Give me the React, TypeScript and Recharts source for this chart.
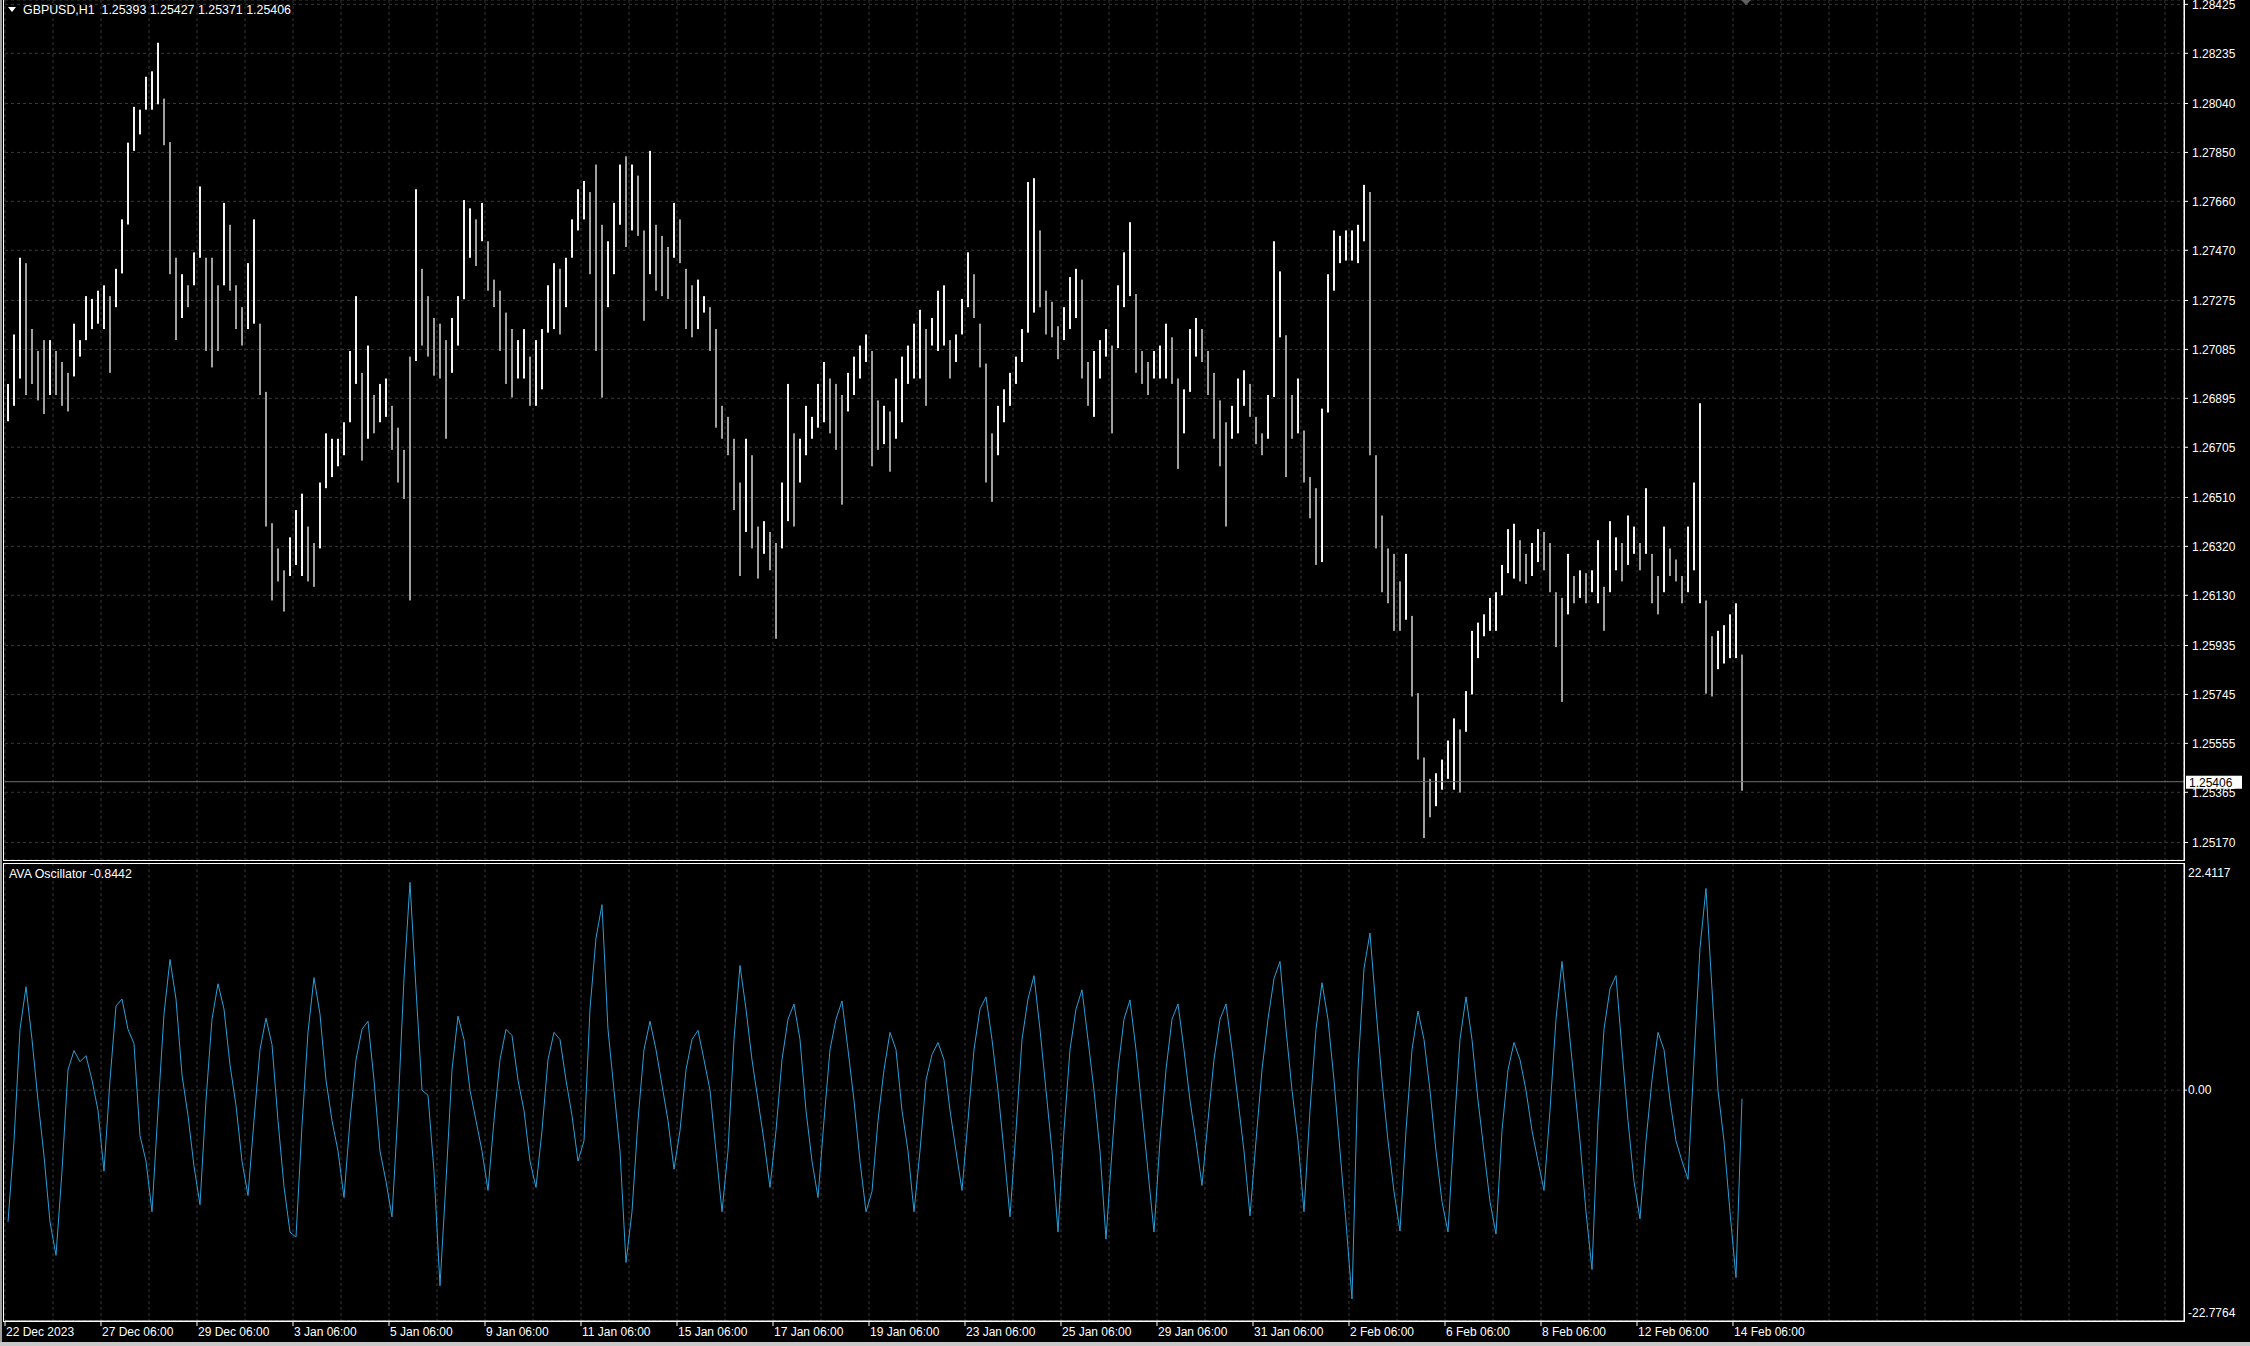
import React from "react";
import { ComposedChart, Bar, Line, XAxis, YAxis, CartesianGrid, ReferenceLine, Cell } from "recharts";

// GBPUSD H1, one entry per group of 3 hourly bars (high / low of the group)
const highs = [
  1.26951, 1.27143, 1.27441, 1.2742, 1.27164, 1.27079, 1.27121, 1.27121,
  1.27079, 1.27036, 1.26994, 1.27185, 1.27121, 1.27292, 1.27281, 1.27313,
  1.27334, 1.27292, 1.27398, 1.2759, 1.27888, 1.28027, 1.28016, 1.28144,
  1.28165, 1.28276, 1.28059, 1.2789, 1.27441, 1.27377, 1.27334, 1.27462,
  1.27718, 1.27441, 1.27441, 1.27334, 1.27654, 1.27569, 1.27334, 1.27249,
  1.2742, 1.2759, 1.27185, 1.2692, 1.2641, 1.26312, 1.26227, 1.26355,
  1.26461, 1.26525, 1.26397, 1.26333, 1.26568, 1.26759, 1.26738, 1.26738,
  1.26802, 1.27079, 1.27292, 1.26994, 1.271, 1.26908, 1.26951, 1.26972,
  1.26866, 1.26781, 1.26695, 1.27057, 1.27707, 1.27398, 1.27292, 1.27207,
  1.27185, 1.27121, 1.27207, 1.27292, 1.27665, 1.27633, 1.2759, 1.27654,
  1.27505, 1.27356, 1.27313, 1.27228, 1.27164, 1.27121, 1.27164, 1.27057,
  1.27121, 1.27164, 1.27334, 1.2742, 1.27398, 1.27441, 1.2759, 1.27707,
  1.27739, 1.27696, 1.27803, 1.27569, 1.27505, 1.27654, 1.27803, 1.27835,
  1.27803, 1.2776, 1.27547, 1.27856, 1.27569, 1.27526, 1.27483, 1.27654,
  1.2759, 1.27398, 1.27334, 1.27356, 1.27292, 1.27249, 1.27164, 1.26866,
  1.26823, 1.26738, 1.26568, 1.26738, 1.26674, 1.26397, 1.26418, 1.26376,
  1.26333, 1.26568, 1.26951, 1.26759, 1.26738, 1.26866, 1.26823, 1.26951,
  1.27036, 1.26972, 1.26951, 1.26908, 1.26994, 1.27057, 1.271, 1.27143,
  1.27079, 1.26887, 1.26866, 1.26844, 1.26972, 1.27057, 1.271, 1.27185,
  1.27239, 1.27164, 1.27207, 1.27313, 1.27334, 1.27121, 1.27143, 1.27281,
  1.27462, 1.27377, 1.27185, 1.2703, 1.26759, 1.26866, 1.2693, 1.26994,
  1.27057, 1.27164, 1.27735, 1.2775, 1.27547, 1.27313, 1.2727, 1.27175,
  1.27249, 1.27366, 1.27398, 1.27356, 1.27036, 1.27079, 1.27121, 1.27164,
  1.271, 1.27334, 1.27462, 1.27579, 1.273, 1.27079, 1.27036, 1.27079,
  1.271, 1.27185, 1.27132, 1.26972, 1.2693, 1.27164, 1.27207, 1.27164,
  1.27079, 1.26994, 1.26887, 1.26802, 1.26866, 1.26972, 1.27004, 1.26951,
  1.26823, 1.26759, 1.26908, 1.27505, 1.27388, 1.2714, 1.26908, 1.26972,
  1.2677, 1.26589, 1.26546, 1.26855, 1.27377, 1.27547, 1.27526, 1.27547,
  1.27547, 1.27569, 1.27724, 1.27696, 1.26674, 1.2644, 1.26312, 1.26291,
  1.26184, 1.26291, 1.2605, 1.2575, 1.255, 1.25417, 1.25439, 1.25492,
  1.25566, 1.25652, 1.25609, 1.25758, 1.25992, 1.26024, 1.26056, 1.2612,
  1.26142, 1.26248, 1.26387, 1.26408, 1.26344, 1.26291, 1.26333, 1.26387,
  1.26376, 1.26333, 1.26142, 1.2612, 1.26291, 1.26205, 1.26227, 1.26216,
  1.26227, 1.26344, 1.26163, 1.26418, 1.26355, 1.26333, 1.2644, 1.26397,
  1.26333, 1.26546, 1.26291, 1.26205, 1.26397, 1.26312, 1.26269, 1.26205,
  1.26397, 1.26568, 1.26876, 1.2611, 1.25971, 1.25992, 1.26014, 1.26056,
  1.26099, 1.259,
];

const lows = [
  1.26806, 1.26866, 1.26972, 1.26908, 1.26951, 1.26887, 1.26834, 1.26908,
  1.26908, 1.26866, 1.26844, 1.2698, 1.27057, 1.27121, 1.27164, 1.27185,
  1.27164, 1.26994, 1.27249, 1.2738, 1.2757, 1.27856, 1.2792, 1.28016,
  1.28016, 1.28037, 1.27878, 1.27377, 1.27121, 1.27207, 1.27249, 1.27334,
  1.27441, 1.27079, 1.27015, 1.27079, 1.27334, 1.27313, 1.27164, 1.271,
  1.27164, 1.27185, 1.26908, 1.26397, 1.2611, 1.26184, 1.26067, 1.26205,
  1.26248, 1.26205, 1.26184, 1.26163, 1.26312, 1.26546, 1.26589, 1.26631,
  1.26674, 1.26802, 1.26951, 1.26653, 1.26738, 1.26759, 1.26802, 1.26823,
  1.26695, 1.26568, 1.26504, 1.2611, 1.2704, 1.271, 1.27057, 1.26983,
  1.26972, 1.26738, 1.26994, 1.271, 1.2728, 1.27441, 1.27409, 1.27505,
  1.27313, 1.27249, 1.27079, 1.26951, 1.26898, 1.26972, 1.26972, 1.26866,
  1.26866, 1.2693, 1.2715, 1.27164, 1.27143, 1.27249, 1.27441, 1.27547,
  1.2759, 1.27377, 1.27079, 1.26898, 1.27249, 1.27377, 1.27569, 1.27483,
  1.27547, 1.27526, 1.27196, 1.27377, 1.27313, 1.27292, 1.27281, 1.27441,
  1.2742, 1.27164, 1.27132, 1.27164, 1.27228, 1.27079, 1.26781, 1.26738,
  1.26674, 1.26461, 1.26205, 1.26376, 1.26312, 1.26195, 1.26291, 1.26227,
  1.25961, 1.26312, 1.26418, 1.26397, 1.26568, 1.26674, 1.26738, 1.26781,
  1.26802, 1.26759, 1.26695, 1.26482, 1.26844, 1.26908, 1.26972, 1.27036,
  1.26631, 1.26695, 1.26717, 1.2661, 1.26738, 1.26802, 1.26951, 1.26972,
  1.26972, 1.26866, 1.271, 1.27079, 1.271, 1.26972, 1.27036, 1.27143,
  1.27249, 1.27207, 1.27015, 1.26568, 1.26493, 1.26674, 1.26802, 1.26866,
  1.26951, 1.27036, 1.2715, 1.27228, 1.27249, 1.27143, 1.27132, 1.27047,
  1.27121, 1.27164, 1.27207, 1.26972, 1.26866, 1.26823, 1.26972, 1.27057,
  1.26759, 1.2709, 1.27249, 1.27292, 1.26994, 1.26951, 1.26908, 1.26972,
  1.26972, 1.26972, 1.26951, 1.26621, 1.26759, 1.2692, 1.27057, 1.27036,
  1.26908, 1.26738, 1.26631, 1.26397, 1.26738, 1.26759, 1.26866, 1.26823,
  1.26717, 1.26674, 1.26738, 1.269, 1.27132, 1.26589, 1.26738, 1.26759,
  1.26568, 1.26429, 1.26248, 1.26259, 1.2684, 1.27313, 1.2742, 1.2743,
  1.2743, 1.2742, 1.27505, 1.26674, 1.26312, 1.26142, 1.26099, 1.25992,
  1.25992, 1.26035, 1.25737, 1.25492, 1.25187, 1.25268, 1.25311, 1.25375,
  1.25417, 1.25375, 1.25364, 1.256, 1.25745, 1.25886, 1.25971, 1.25992,
  1.25992, 1.2613, 1.26216, 1.26195, 1.26184, 1.26174, 1.26205, 1.26259,
  1.26227, 1.26142, 1.25929, 1.25716, 1.26056, 1.26099, 1.2612, 1.26099,
  1.26142, 1.26099, 1.25992, 1.26142, 1.26227, 1.26184, 1.26248, 1.26291,
  1.26227, 1.26291, 1.26099, 1.26056, 1.26142, 1.26205, 1.26184, 1.26099,
  1.26142, 1.26227, 1.26099, 1.25748, 1.25737, 1.25843, 1.25865, 1.25886,
  1.25886, 1.25371,
];

// AVA Oscillator, same grouping
const ava = [
  -13, -5, 6, 10.2, 5, -1, -6.5, -13, -16.3,
  -8, 2, 3.9, 2.8, 3.4, 1, -2, -8,
  1, 8.3, 9, 6, 4.6, -4.5, -7, -12,
  -2, 7.5, 12.9, 9, 1.5, -2.5, -7.5, -11.3,
  -1, 7, 10.5, 8, 2.5, -1.5, -7, -10.4,
  -3, 4, 7.1, 4.5, -3, -9.5, -14, -14.5,
  -3.5, 5.7, 11.1, 7.5, 1, -3, -6, -10.6,
  -3, 3, 6, 6.8, 1, -6, -9, -12.5,
  -2, 11, 20.5, 10, 0, -0.5, -8, -19.3,
  -9, 2, 7.3, 5, 0, -3, -6, -9.9,
  -3, 3, 6, 5.4, 1, -2, -7, -9.6,
  -4, 3, 5.7, 5, 1, -2.5, -7, -5,
  8, 15, 18.3, 6, 0, -6, -17, -12,
  -3, 4, 6.8, 4, 0.5, -3, -7.8, -4,
  2, 5, 5.9, 3, 0, -6, -12, -6,
  5, 12.3, 8, 3, -1, -5, -9.6, -4,
  3, 7, 8.5, 5, -2, -7, -10.6, -3,
  4, 7, 8.8, 4, -1, -7, -12, -10,
  -3, 2, 5.7, 4, -2, -6, -12, -6,
  1, 3.5, 4.7, 3, -2, -6, -9.9, -3,
  4, 8, 9.2, 5, 0, -6, -12.5, -4,
  5, 9, 11.3, 6, 0, -6, -14, -4,
  4, 8, 9.9, 5, 0, -6, -14.7, -6,
  2, 7, 8.9, 4, -2, -8, -14, -5,
  2, 7, 8.5, 4, -1, -5, -9.4, -3,
  3, 7, 8.5, 4, -1, -6, -12.4, -5,
  2, 7, 11, 12.7, 6, 0, -5, -12,
  -2, 6, 10.6, 7, 1, -6, -13, -20.6,
  2, 12, 15.5, 8, 1, -5, -10, -13.9,
  -4, 4, 7.8, 5, 0, -6, -11, -14,
  -4, 5, 9.2, 5, -1, -6, -11, -14.2,
  -4, 2, 4.7, 3, 0, -4, -7, -9.9,
  -2, 7, 12.7, 7, 1, -5, -12, -17.7,
  -3, 6, 10, 11.3, 4, -3, -9, -12.7,
  -5, 1, 5.7, 4, -1, -5, -7, -8.8,
  3, 14, 19.9, 10, 0, -5, -12, -18.5,
  -0.84,
];

const priceTicks = [
  1.28425, 1.28235, 1.2804, 1.2785, 1.2766, 1.2747, 1.27275, 1.27085, 1.26895,
  1.26705, 1.2651, 1.2632, 1.2613, 1.25935, 1.25745, 1.25555, 1.25365, 1.2517,
];
const avaTicks = [22.4117, 0, -22.7764];
const dateLabels = [
  "22 Dec 2023", "27 Dec 06:00", "29 Dec 06:00", "3 Jan 06:00", "5 Jan 06:00",
  "9 Jan 06:00", "11 Jan 06:00", "15 Jan 06:00", "17 Jan 06:00", "19 Jan 06:00",
  "23 Jan 06:00", "25 Jan 06:00", "29 Jan 06:00", "31 Jan 06:00", "2 Feb 06:00",
  "6 Feb 06:00", "8 Feb 06:00", "12 Feb 06:00", "14 Feb 06:00",
];
const lastClose = 1.25406;
const title = "GBPUSD,H1  1.25393 1.25427 1.25371 1.25406";
const avaTitle = "AVA Oscillator -0.8442";

const FONT = '"Liberation Sans", Arial, sans-serif';
const GRID = "#383838";
const X_DOMAIN = [-0.5, 362.67];
// a dotted vertical line every 8 groups (one day), a date every 16
const gridTicks = Array.from({ length: 46 }, (_, k) => 8 * k - 0.5);

const data = highs.map((h, i) => ({
  i,
  range: [lows[i], h],
  ava: ava[i],
  up: i === 0 || h + lows[i] >= highs[i - 1] + lows[i - 1],
}));

const DateTick = ({ x, y, payload }: any) => {
  const k = Math.round((payload.value + 0.5) / 16);
  if (Math.abs(payload.value + 0.5 - 16 * k) > 0.01 || k >= dateLabels.length) return <g />;
  return (
    <g>
      <line x1={x} x2={x} y1={y} y2={y + 5} stroke="#fff" />
      <text x={x + 1} y={y + 15} fill="#fff" fontSize={12} fontFamily={FONT}>
        {dateLabels[k]}
      </text>
    </g>
  );
};

const AvaTick = ({ x, y, payload }: any) => {
  const v = payload.value;
  const dy = v > 0 ? 14 : v < 0 ? -4 : 4;
  return (
    <g>
      {v === 0 && <line x1={x - 4} x2={x - 1} y1={y} y2={y} stroke="#fff" />}
      <text x={x} y={y + dy} fill="#fff" fontSize={12} fontFamily={FONT}>
        {v === 0 ? "0.00" : v.toFixed(4)}
      </text>
    </g>
  );
};

const PriceTag = ({ viewBox }: any) => {
  const x = viewBox.x + viewBox.width + 2;
  const y = viewBox.y;
  return (
    <g>
      <rect x={x} y={y - 6} width={56} height={13} fill="#fff" />
      <text x={x + 3} y={y + 5} fill="#000" fontSize={12} fontFamily={FONT}>
        {lastClose.toFixed(5)}
      </text>
    </g>
  );
};

export default function App() {
  return (
    <div style={{ position: "absolute", left: 0, top: 0, width: 2250, height: 1346, background: "#000", overflow: "hidden" }}>
      <div style={{ position: "absolute", left: 0, top: 0 }}>
        <ComposedChart width={2250} height={860} data={data} margin={{ top: 0, right: 0, bottom: 0, left: 5 }}>
          <CartesianGrid stroke={GRID} strokeDasharray="3 3" />
          <XAxis type="number" dataKey="i" domain={X_DOMAIN} ticks={gridTicks} interval={0} hide allowDataOverflow />
          <YAxis
            orientation="right"
            width={66}
            domain={[1.25102, 1.28442]}
            ticks={priceTicks}
            interval={0}
            allowDataOverflow
            tickSize={4}
            tickMargin={4}
            tickFormatter={(v: number) => v.toFixed(5)}
            tick={{ fill: "#fff", fontSize: 12, fontFamily: FONT }}
            tickLine={{ stroke: "#fff" }}
            axisLine={{ stroke: "#fff" }}
          />
          <Bar dataKey="range" barSize={2} isAnimationActive={false}>
            {data.map((d) => (
              <Cell key={d.i} fill={d.up ? "#f4f4f4" : "#a0a0a0"} />
            ))}
          </Bar>
          <ReferenceLine y={lastClose} stroke="#707070" label={<PriceTag />} />
        </ComposedChart>
      </div>

      <div style={{ position: "absolute", left: 0, top: 863 }}>
        <ComposedChart width={2250} height={483} data={data} margin={{ top: 0, right: 0, bottom: 0, left: 5 }}>
          <CartesianGrid stroke={GRID} strokeDasharray="3 3" />
          <XAxis
            type="number"
            dataKey="i"
            domain={X_DOMAIN}
            ticks={gridTicks}
            interval={0}
            allowDataOverflow
            height={25}
            tickSize={0}
            tickMargin={0}
            tickLine={false}
            axisLine={{ stroke: "#fff" }}
            tick={<DateTick />}
          />
          <YAxis
            orientation="right"
            width={66}
            domain={[-22.7764, 22.4117]}
            ticks={avaTicks}
            interval={0}
            allowDataOverflow
            tickSize={0}
            tickMargin={4}
            tickLine={false}
            axisLine={{ stroke: "#fff" }}
            tick={<AvaTick />}
          />
          <Line type="linear" dataKey="ava" stroke="#2a9fd8" strokeWidth={1} dot={false} isAnimationActive={false} />
        </ComposedChart>
      </div>

      {/* pane frames */}
      <div style={{ position: "absolute", left: 3, top: -1, width: 2182, height: 862, border: "1px solid #fff", boxSizing: "border-box" }} />
      <div style={{ position: "absolute", left: 3, top: 863, width: 2182, height: 459, border: "1px solid #fff", boxSizing: "border-box" }} />
      <div style={{ position: "absolute", left: 0, top: 0, width: 2, height: 1346, background: "#a0a0a0" }} />
      <div style={{ position: "absolute", left: 0, top: 1342, width: 2250, height: 4, background: "#c8c8c8" }} />

      {/* chart shift marker */}
      <svg style={{ position: "absolute", left: 1741, top: 0 }} width={10} height={6}>
        <polygon points="0,0 10,0 5,5" fill="#606060" />
      </svg>
      <svg style={{ position: "absolute", left: 8, top: 7 }} width={8} height={6}>
        <polygon points="0,0 8,0 4,5" fill="#fff" />
      </svg>
      <div style={{ position: "absolute", left: 23, top: 3, color: "#fff", fontSize: 12.4, lineHeight: "14px", fontFamily: FONT, whiteSpace: "pre" }}>
        {title}
      </div>
      <div style={{ position: "absolute", left: 9, top: 867, color: "#fff", fontSize: 12.4, lineHeight: "14px", fontFamily: FONT, whiteSpace: "pre" }}>
        {avaTitle}
      </div>
    </div>
  );
}
